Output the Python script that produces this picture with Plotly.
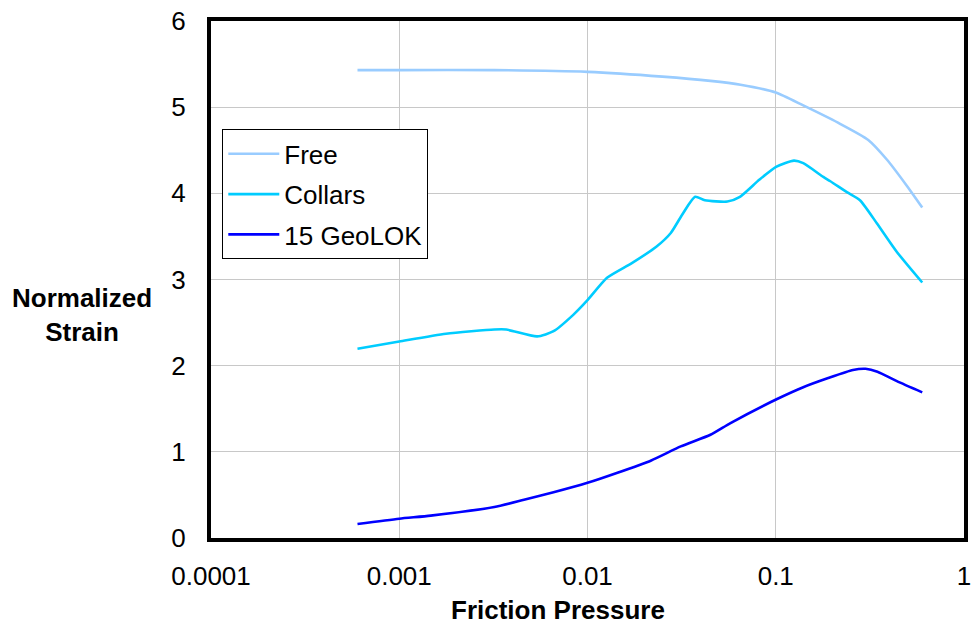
import plotly.graph_objects as go

free_x = [0.0006, 0.001, 0.0032, 0.01, 0.025, 0.045, 0.065, 0.1, 0.14, 0.214, 0.31, 0.39, 0.5, 0.6]
free_y = [5.43, 5.43, 5.43, 5.41, 5.355, 5.305, 5.26, 5.17, 5.02, 4.82, 4.62, 4.39, 4.08, 3.835]

collars_x = [0.0006, 0.001, 0.00177, 0.0032, 0.0037, 0.0054, 0.0066, 0.0084, 0.01, 0.0127, 0.0172,
             0.0232, 0.0277, 0.0322, 0.0373, 0.042, 0.0553, 0.0645, 0.082, 0.101, 0.125, 0.14,
             0.179, 0.195, 0.24, 0.28, 0.345, 0.44, 0.6]
collars_y = [2.196, 2.28, 2.37, 2.42, 2.42, 2.34, 2.40, 2.59, 2.76, 3.02, 3.19,
             3.38, 3.54, 3.77, 3.96, 3.92, 3.905, 3.96, 4.16, 4.31, 4.38, 4.35,
             4.19, 4.14, 4.01, 3.92, 3.65, 3.32, 2.965]

geolok_x = [0.0006, 0.001, 0.00147, 0.0032, 0.0046, 0.0066, 0.01, 0.0143, 0.0218, 0.0313, 0.045,
            0.0575, 0.101, 0.14, 0.19, 0.257, 0.30, 0.347, 0.44, 0.6]
geolok_y = [0.162, 0.224, 0.26, 0.36, 0.444, 0.53, 0.64, 0.754, 0.90, 1.063, 1.198,
            1.334, 1.61, 1.75, 1.856, 1.95, 1.964, 1.93, 1.82, 1.69]

series_names = ["Free", "Collars", "15 GeoLOK"]
series_colors = ["#99CCFF", "#00CCFF", "#0000FF"]

x_ticks = [0.0001, 0.001, 0.01, 0.1, 1]
x_tick_labels = ["0.0001", "0.001", "0.01", "0.1", "1"]
y_ticks = [0, 1, 2, 3, 4, 5, 6]

fig = go.Figure()
for i, (xs, ys) in enumerate([(free_x, free_y), (collars_x, collars_y), (geolok_x, geolok_y)]):
    fig.add_trace(go.Scatter(
        x=xs, y=ys, mode="lines", name=series_names[i],
        legendgroup=f"g{i}",
        line=dict(color=series_colors[i], width=2.6, shape="spline", smoothing=0.6),
    ))

font_family = "Liberation Sans, Arial, sans-serif"
FS = 26

fig.update_layout(
    width=977, height=626,
    margin=dict(l=210.5, r=6, t=20.5, b=88),
    paper_bgcolor="white", plot_bgcolor="white",
    font=dict(family=font_family, size=FS, color="black"),
    showlegend=True,
    legend=dict(
        x=0.015, y=(538 - 129) / 517.5, xanchor="left", yanchor="top",
        bgcolor="white", bordercolor="black", borderwidth=1,
        font=dict(family=font_family, size=FS, color="black"),
        tracegroupgap=3.5, itemwidth=51,
    ),
    xaxis=dict(
        type="log", range=[-4, 0],
        tickmode="array", tickvals=x_ticks, ticktext=x_tick_labels,
        showgrid=True, gridcolor="#C8C8C8", gridwidth=1,
        showline=True, linecolor="black", linewidth=4, mirror=True,
        ticks="", ticklabelstandoff=12,
        tickfont=dict(family=font_family, size=FS, color="black"),
        zeroline=False,
    ),
    yaxis=dict(
        range=[0, 6],
        tickmode="array", tickvals=y_ticks,
        showgrid=True, gridcolor="#C8C8C8", gridwidth=1,
        showline=True, linecolor="black", linewidth=4, mirror=True,
        ticks="", ticklabelstandoff=16,
        tickfont=dict(family=font_family, size=FS, color="black"),
        zeroline=False,
    ),
    annotations=[
        dict(text="<b>Friction Pressure</b>", xref="paper", yref="paper",
             x=(561 - 210.5) / 760.5, y=0, yshift=-72, xanchor="center", yanchor="middle",
             showarrow=False, font=dict(family=font_family, size=FS, color="black")),
        dict(text="<b>Normalized<br>Strain</b>", xref="paper", yref="paper",
             x=0, xshift=-129, y=(538 - 315) / 517.5, xanchor="center", yanchor="middle",
             showarrow=False, font=dict(family=font_family, size=FS, color="black")),
    ],
)

fig.write_html("out.html")
